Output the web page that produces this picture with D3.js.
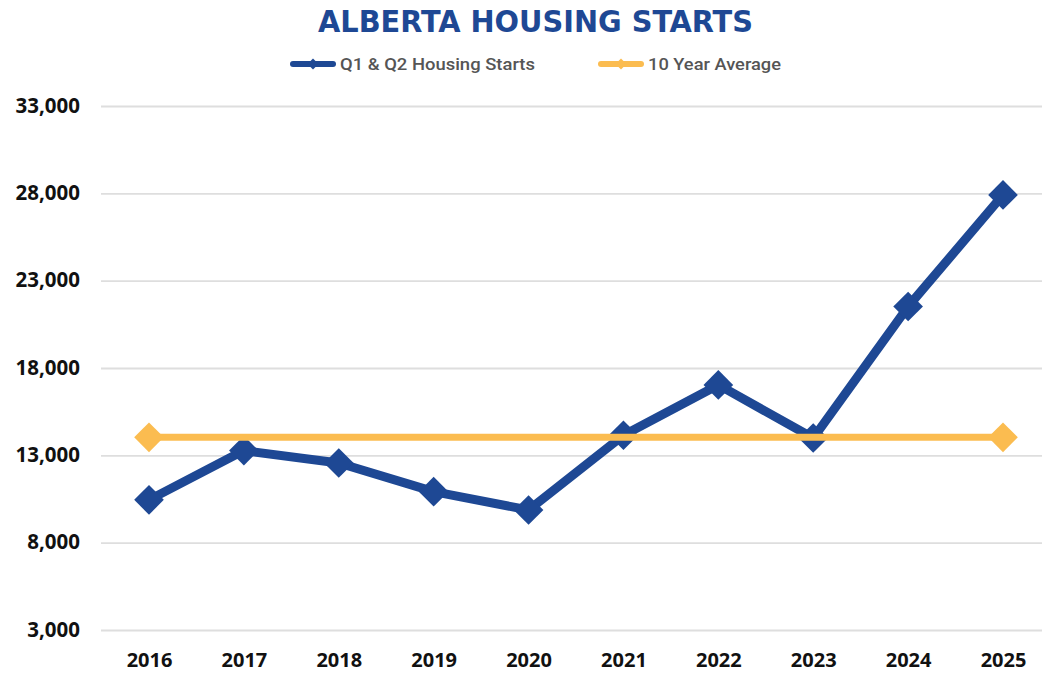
<!DOCTYPE html>
<html>
<head>
<meta charset="utf-8">
<script src="https://cdn.jsdelivr.net/npm/d3@7"></script>
<style>
  body { margin: 0; background: #fff; }
  svg { display: block; }
  .tick line { stroke: #dedede; stroke-width: 1.8; }
  .domain { display: none; }
</style>
</head>
<body>
<svg></svg>
<script>
var width = 1042;
var height = 674;

// data
var years = ["2016", "2017", "2018", "2019", "2020", "2021", "2022", "2023", "2024", "2025"];
var starts = [10450, 13270, 12560, 10920, 9870, 14150, 17030, 13990, 21520, 27910];
var average = [14030, 14030, 14030, 14030, 14030, 14030, 14030, 14030, 14030, 14030];
var yTicks = [3000, 8000, 13000, 18000, 23000, 28000, 33000];

var blue = "#1e4894";
var yellow = "#fbbc50";

var svg = d3.select("svg")
    .attr("width", width)
    .attr("height", height);

// scales
var x = d3.scalePoint().domain(years).range([149, 1003]);
var y = d3.scaleLinear().domain([3000, 33000]).range([630, 106]);

// gridlines
svg.append("g")
    .attr("transform", "translate(101,0)")
    .call(d3.axisLeft(y).tickValues(yTicks).tickSize(-(width - 101)).tickFormat(""));

// y labels
var yAxis = svg.append("g")
    .attr("transform", "translate(80,0)")
    .call(d3.axisLeft(y).tickValues(yTicks).tickSize(0).tickPadding(0).tickFormat(d3.format(",")));
yAxis.selectAll("text")
    .attr("font-family", "'Open Sans', sans-serif")
    .attr("font-weight", "bold")
    .attr("font-size", 20.5)
    .attr("fill", "#111")
    .attr("dy", "0.3em");

// x labels
var xAxis = svg.append("g")
    .attr("transform", "translate(0,649)")
    .call(d3.axisBottom(x).tickSize(0).tickPadding(0));
xAxis.selectAll("text")
    .attr("font-family", "'Open Sans', sans-serif")
    .attr("font-weight", "bold")
    .attr("font-size", 20)
    .attr("fill", "#111")
    .attr("dy", "0.92em");

var diamond = d3.symbol().type(d3.symbolSquare).size(440);

var line = d3.line()
    .x(function(d, i) { return x(years[i]); })
    .y(function(d) { return y(d); });

// housing starts series
svg.append("path")
    .datum(starts)
    .attr("d", line)
    .attr("fill", "none")
    .attr("stroke", blue)
    .attr("stroke-width", 9)
    .attr("stroke-linejoin", "round");

svg.append("g").selectAll("path")
    .data(starts)
    .enter().append("path")
    .attr("d", diamond)
    .attr("fill", blue)
    .attr("transform", function(d, i) {
        return "translate(" + x(years[i]) + "," + y(d) + ") rotate(45)";
    });

// 10 year average, markers only at the ends
svg.append("path")
    .datum(average)
    .attr("d", line)
    .attr("fill", "none")
    .attr("stroke", yellow)
    .attr("stroke-width", 7);

svg.append("g").selectAll("path")
    .data(average.filter(function(d, i) { return i == 0 || i == average.length - 1; }))
    .enter().append("path")
    .attr("d", diamond)
    .attr("fill", yellow)
    .attr("transform", function(d, i) {
        var yr = i == 0 ? years[0] : years[years.length - 1];
        return "translate(" + x(yr) + "," + y(d) + ") rotate(45)";
    });

// title
svg.append("text")
    .attr("x", 535.5)
    .attr("y", 32)
    .attr("text-anchor", "middle")
    .attr("font-family", "'DejaVu Sans Condensed', 'DejaVu Sans', sans-serif")
    .attr("font-weight", "bold")
    .attr("font-size", 30)
    .attr("fill", blue)
    .attr("textLength", 435)
    .attr("lengthAdjust", "spacingAndGlyphs")
    .text("ALBERTA HOUSING STARTS");

// legend
var legend = [
    { label: "Q1 & Q2 Housing Starts", color: blue, x0: 293, tx: 340, tw: 195 },
    { label: "10 Year Average", color: yellow, x0: 601, tx: 648, tw: 133 }
];

var lg = svg.append("g").selectAll("g")
    .data(legend)
    .enter().append("g");

lg.append("line")
    .attr("x1", function(d) { return d.x0; })
    .attr("x2", function(d) { return d.x0 + 40; })
    .attr("y1", 64)
    .attr("y2", 64)
    .attr("stroke", function(d) { return d.color; })
    .attr("stroke-width", 6)
    .attr("stroke-linecap", "round");

lg.append("path")
    .attr("d", d3.symbol().type(d3.symbolSquare).size(60))
    .attr("fill", function(d) { return d.color; })
    .attr("transform", function(d) { return "translate(" + (d.x0 + 20) + ",64) rotate(45)"; });

lg.append("text")
    .attr("x", function(d) { return d.tx; })
    .attr("y", 70)
    .attr("font-family", "Roboto, sans-serif")
    .attr("font-weight", 500)
    .attr("font-size", 17)
    .attr("fill", "#555")
    .attr("textLength", function(d) { return d.tw; })
    .attr("lengthAdjust", "spacingAndGlyphs")
    .text(function(d) { return d.label; });
</script>
</body>
</html>
